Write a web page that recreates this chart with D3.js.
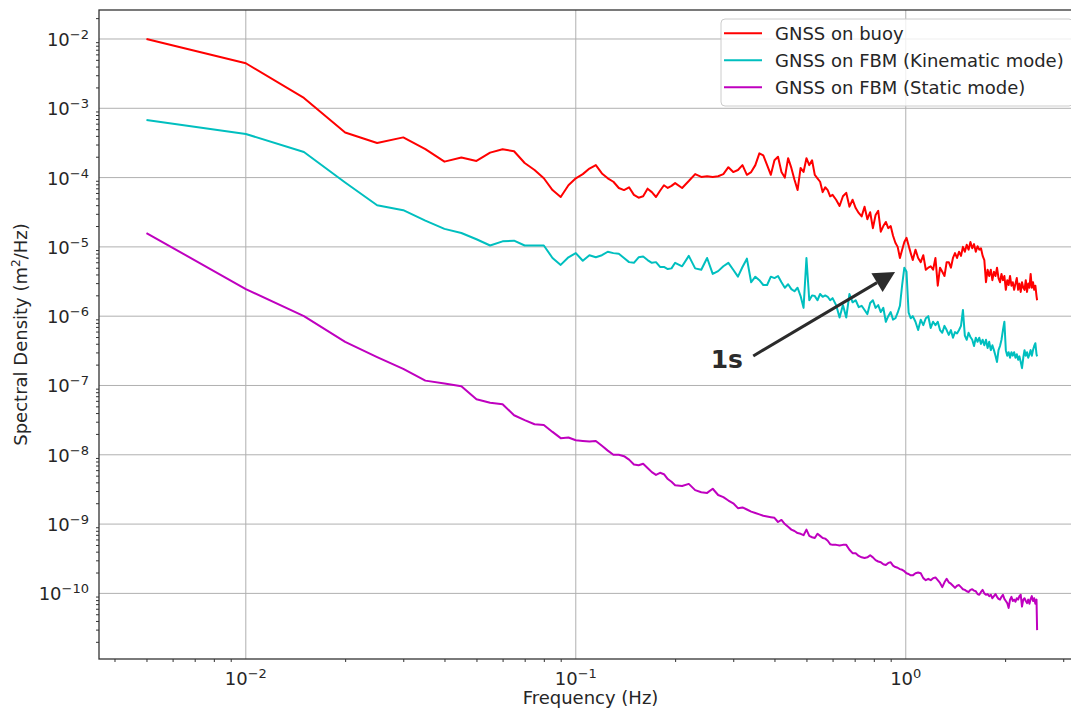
<!DOCTYPE html>
<html>
<head>
<meta charset="utf-8">
<title>Spectral density</title>
<script src="https://cdn.jsdelivr.net/npm/d3@7"></script>
<style>
	body { margin: 0; background: #fff; }
	svg text { font-family: "DejaVu Sans", sans-serif; fill: #262626; }
</style>
</head>
<body>
<div id="svg-container"></div>
<script>
// frequency bins (Hz) shared by the three spectra
const freqHz = [
	0.005,0.01,0.015,0.02,0.025,0.03,0.035,0.04,0.045,0.05,
	0.055,0.06,0.065,0.07,0.075,0.08,0.085,0.09,0.095,0.1,
	0.105,0.11,0.115,0.12,0.125,0.13,0.135,0.14,0.145,0.15,
	0.155,0.16,0.165,0.17,0.175,0.18,0.185,0.19,0.195,0.2,
	0.21,0.22,0.23,0.24,0.25,0.26,0.27,0.28,0.29,0.3,
	0.31,0.32,0.33,0.34,0.35,0.36,0.37,0.38,0.39,0.4,
	0.41,0.42,0.43,0.44,0.45,0.46,0.47,0.48,0.49,0.5,
	0.51,0.52,0.53,0.54,0.55,0.56,0.57,0.58,0.59,0.6,
	0.615,0.63,0.645,0.66,0.675,0.69,0.705,0.72,0.735,0.75,
	0.765,0.78,0.795,0.81,0.825,0.84,0.855,0.87,0.885,0.9,
	0.915,0.93,0.945,0.96,0.975,0.99,1.005,1.02,1.035,1.05,
	1.07,1.09,1.11,1.13,1.15,1.17,1.19,1.21,1.23,1.25,
	1.27,1.29,1.31,1.33,1.35,1.37,1.39,1.41,1.43,1.45,
	1.47,1.49,1.51,1.53,1.55,1.57,1.59,1.61,1.63,1.65,
	1.67,1.69,1.71,1.73,1.75,1.77,1.79,1.81,1.83,1.85,
	1.87,1.89,1.91,1.93,1.95,1.97,1.99,2.01,2.03,2.05,
	2.07,2.09,2.11,2.13,2.15,2.17,2.19,2.21,2.23,2.25,
	2.27,2.29,2.31,2.33,2.35,2.37,2.39,2.41,2.43,2.45,
	2.47,2.49,2.5
];

// spectral density, stored as log10 of m^2/Hz
const buoyLog10Psd = [
	-2.00,-2.35,-2.85,-3.35,-3.50,-3.42,-3.59,-3.77,-3.71,-3.76,
	-3.64,-3.59,-3.62,-3.79,-3.89,-4.01,-4.18,-4.28,-4.11,-4.01,
	-3.95,-3.87,-3.82,-3.94,-4.01,-4.06,-4.15,-4.18,-4.14,-4.25,
	-4.29,-4.27,-4.16,-4.21,-4.28,-4.19,-4.11,-4.15,-4.12,-4.08,
	-4.15,-4.05,-3.95,-3.99,-3.98,-3.99,-3.98,-3.95,-3.85,-3.92,
	-3.89,-3.82,-3.96,-3.92,-3.82,-3.65,-3.68,-3.82,-3.96,-3.75,
	-3.70,-3.92,-4.00,-3.72,-3.86,-4.03,-4.18,-3.86,-3.92,-3.72,
	-3.82,-3.75,-3.96,-4.01,-4.06,-4.21,-4.14,-4.18,-4.27,-4.25,
	-4.32,-4.41,-4.27,-4.22,-4.42,-4.32,-4.44,-4.51,-4.56,-4.42,
	-4.60,-4.50,-4.73,-4.54,-4.48,-4.78,-4.70,-4.64,-4.73,-4.70,
	-4.84,-4.94,-5.00,-5.16,-5.04,-4.93,-4.87,-4.98,-5.09,-5.19,
	-5.04,-5.16,-5.22,-5.12,-5.33,-5.30,-5.28,-5.33,-5.16,-5.56,
	-5.30,-5.36,-5.42,-5.22,-5.22,-5.30,-5.16,-5.09,-5.16,-5.07,
	-5.13,-5.00,-5.07,-4.97,-5.04,-4.93,-5.02,-4.96,-5.07,-4.99,
	-5.04,-5.02,-5.13,-5.19,-5.51,-5.33,-5.42,-5.33,-5.48,-5.36,
	-5.42,-5.30,-5.45,-5.51,-5.39,-5.48,-5.42,-5.62,-5.48,-5.55,
	-5.42,-5.56,-5.51,-5.62,-5.53,-5.45,-5.62,-5.53,-5.65,-5.51,
	-5.59,-5.62,-5.48,-5.65,-5.53,-5.59,-5.39,-5.59,-5.51,-5.62,
	-5.56,-5.71,-5.77
];

const kinematicLog10Psd = [
	-3.17,-3.37,-3.63,-4.07,-4.40,-4.47,-4.62,-4.74,-4.80,-4.89,
	-4.98,-4.92,-4.91,-4.98,-4.98,-4.98,-5.16,-5.26,-5.15,-5.09,
	-5.20,-5.12,-5.15,-5.12,-5.07,-5.09,-5.10,-5.16,-5.22,-5.23,
	-5.15,-5.14,-5.19,-5.23,-5.22,-5.29,-5.29,-5.32,-5.31,-5.23,
	-5.28,-5.13,-5.31,-5.33,-5.16,-5.39,-5.35,-5.28,-5.23,-5.33,
	-5.43,-5.29,-5.17,-5.51,-5.43,-5.48,-5.55,-5.55,-5.43,-5.45,
	-5.42,-5.51,-5.59,-5.54,-5.61,-5.64,-5.59,-5.71,-5.88,-5.16,
	-5.77,-5.70,-5.71,-5.77,-5.68,-5.72,-5.70,-5.72,-5.77,-5.74,
	-5.84,-6.02,-5.84,-6.02,-5.68,-5.80,-5.77,-5.87,-5.85,-5.91,
	-5.97,-5.81,-5.77,-5.88,-5.84,-5.94,-5.88,-6.08,-6.00,-5.94,
	-6.05,-6.03,-5.95,-5.85,-5.55,-5.30,-5.36,-5.95,-6.03,-6.00,
	-6.08,-6.20,-6.05,-6.13,-6.03,-6.00,-6.17,-6.08,-6.13,-6.08,
	-6.20,-6.24,-6.14,-6.20,-6.27,-6.20,-6.31,-6.23,-6.25,-6.20,
	-6.14,-5.91,-6.28,-6.34,-6.24,-6.30,-6.34,-6.43,-6.31,-6.37,
	-6.31,-6.40,-6.34,-6.42,-6.34,-6.46,-6.37,-6.49,-6.42,-6.49,
	-6.57,-6.66,-6.49,-6.43,-6.34,-6.20,-6.08,-6.49,-6.57,-6.52,
	-6.60,-6.52,-6.57,-6.52,-6.60,-6.55,-6.63,-6.58,-6.66,-6.75,
	-6.60,-6.49,-6.57,-6.52,-6.60,-6.55,-6.49,-6.57,-6.49,-6.43,
	-6.39,-6.55,-6.58
];

const staticLog10Psd = [
	-4.80,-5.61,-6.00,-6.37,-6.59,-6.76,-6.93,-6.97,-7.01,-7.20,
	-7.25,-7.27,-7.43,-7.50,-7.56,-7.57,-7.67,-7.76,-7.75,-7.79,
	-7.80,-7.81,-7.80,-7.87,-7.94,-8.00,-8.00,-8.02,-8.07,-8.14,
	-8.15,-8.13,-8.19,-8.25,-8.29,-8.26,-8.28,-8.35,-8.39,-8.44,
	-8.45,-8.42,-8.51,-8.54,-8.55,-8.49,-8.58,-8.61,-8.66,-8.70,
	-8.77,-8.76,-8.79,-8.82,-8.84,-8.86,-8.88,-8.89,-8.90,-8.91,
	-8.97,-8.94,-9.00,-9.04,-9.08,-9.10,-9.13,-9.14,-9.16,-9.08,
	-9.17,-9.19,-9.20,-9.14,-9.17,-9.20,-9.21,-9.24,-9.29,-9.30,
	-9.30,-9.31,-9.30,-9.30,-9.37,-9.42,-9.42,-9.46,-9.48,-9.49,
	-9.48,-9.45,-9.48,-9.52,-9.54,-9.55,-9.58,-9.59,-9.56,-9.55,
	-9.60,-9.62,-9.63,-9.65,-9.66,-9.68,-9.71,-9.72,-9.74,-9.74,
	-9.71,-9.70,-9.71,-9.78,-9.81,-9.79,-9.81,-9.78,-9.77,-9.81,
	-9.85,-9.91,-9.84,-9.79,-9.84,-9.86,-9.89,-9.92,-9.89,-9.88,
	-9.91,-9.94,-9.95,-9.97,-9.98,-9.95,-9.94,-9.96,-9.97,-10.01,
	-10.02,-9.98,-9.95,-10.00,-10.02,-10.01,-10.04,-10.02,-10.07,-10.04,
	-10.01,-10.05,-10.08,-10.09,-10.05,-10.02,-10.08,-10.11,-10.14,-10.21,
	-10.09,-10.05,-10.11,-10.09,-10.12,-10.07,-10.09,-10.04,-10.02,-10.19,
	-10.09,-10.07,-10.11,-10.14,-10.09,-10.15,-10.08,-10.04,-10.11,-10.07,
	-10.15,-10.09,-10.53
];

const seriesNames = ["GNSS on buoy", "GNSS on FBM (Kinematic mode)", "GNSS on FBM (Static mode)"];
const xMajorTicks = [0.01, 0.1, 1];
const yMajorTicks = [1e-2, 1e-3, 1e-4, 1e-5, 1e-6, 1e-7, 1e-8, 1e-9, 1e-10];
const xLimits = [0.00359, 3.42];
const yLimits = [1.13e-11, 2.62e-2];
const xTitle = "Frequency (Hz)";
const yTitle = ["Spectral Density (m", "2", "/Hz)"];

// "1s" arrow: text anchor, arrow tail and arrow tip in data units
const noteText = "1s";
const noteTextAt = [0.321, 1.79e-7];
const noteTail = [0.345, 2.67e-7];
const noteTip = [0.928, 4.35e-6];

var Chart = function () {
	var _outerSize = { width: 1071, height: 710 };
	var _plot = { left: 99, top: 10, right: 1082, bottom: 659 };
	var _colors = ["#ff0000", "#00bfbf", "#bf00bf"];
	var _x = d3.scaleLog().domain(xLimits).range([_plot.left, _plot.right]);
	var _y = d3.scaleLog().domain(yLimits).range([_plot.bottom, _plot.top]);
	var _svg;

	return { draw: myDraw };

	function isDecade(v) {
		var l = Math.log10(v);
		return Math.abs(l - Math.round(l)) < 1e-6;
	}

	// 10^n label written with a raised exponent
	function powerLabel(sel, v) {
		var e = Math.round(Math.log10(v));
		sel.append("tspan").text("10");
		sel.append("tspan")
			.attr("dy", -7)
			.attr("font-size", 13)
			.text(e < 0 ? "\u2212" + (-e) : String(e));
	}

	function myDraw(series) {
		_svg = d3.select("#svg-container").append("svg")
			.attr("width", _outerSize.width)
			.attr("height", _outerSize.height);

		drawGrid();
		drawLines(series);
		drawAxes();
		drawLegend(series);
		drawNote();
	}

	function drawGrid() {
		var g = _svg.append("g").attr("class", "grid")
			.attr("stroke", "#b0b0b0").attr("stroke-width", 1);
		g.selectAll("line.gx").data(xMajorTicks).enter().append("line")
			.attr("x1", d => _x(d)).attr("x2", d => _x(d))
			.attr("y1", _plot.top).attr("y2", _plot.bottom);
		g.selectAll("line.gy").data(yMajorTicks).enter().append("line")
			.attr("y1", d => _y(d)).attr("y2", d => _y(d))
			.attr("x1", _plot.left).attr("x2", _plot.right);
	}

	function drawLines(series) {
		var lineFunction = d3.line()
			.x(d => _x(d.f))
			.y(d => _y(Math.pow(10, d.v)))
			.curve(d3.curveLinear);

		_svg.append("g").attr("class", "lines")
			.selectAll("path").data(series).enter().append("path")
			.attr("fill", "none")
			.attr("stroke", (d, i) => _colors[i])
			.attr("stroke-width", 2)
			.attr("stroke-linejoin", "round")
			.attr("d", d => lineFunction(d.points));
	}

	function drawAxes() {
		var xMinor = _x.ticks().filter(t => !isDecade(t));
		var yMinor = _y.ticks(40).filter(t => !isDecade(t));

		var gx = _svg.append("g").attr("class", "x axis")
			.attr("transform", "translate(0," + _plot.bottom + ")");
		gx.call(d3.axisBottom(_x).tickValues(xMajorTicks).tickSize(5).tickFormat(""));
		gx.call(d3.axisBottom(_x).tickValues(xMinor).tickSize(3).tickFormat(""));
		gx.selectAll(".domain").remove();

		var gy = _svg.append("g").attr("class", "y axis")
			.attr("transform", "translate(" + _plot.left + ",0)");
		gy.call(d3.axisLeft(_y).tickValues(yMajorTicks).tickSize(5).tickFormat(""));
		gy.call(d3.axisLeft(_y).tickValues(yMinor).tickSize(3).tickFormat(""));
		gy.selectAll(".domain").remove();
		_svg.selectAll(".axis line").attr("stroke", "#333").attr("stroke-width", 1);

		// tick labels with superscripts
		_svg.append("g").selectAll("text").data(xMajorTicks).enter().append("text")
			.attr("x", d => _x(d)).attr("y", _plot.bottom + 26)
			.attr("text-anchor", "middle").attr("font-size", 18)
			.each(function (d) { powerLabel(d3.select(this), d); });

		_svg.append("g").selectAll("text").data(yMajorTicks).enter().append("text")
			.attr("x", _plot.left - 10).attr("y", d => _y(d) + 7)
			.attr("text-anchor", "end").attr("font-size", 18)
			.each(function (d) { powerLabel(d3.select(this), d); });

		// spines
		_svg.append("rect")
			.attr("x", _plot.left).attr("y", _plot.top)
			.attr("width", _plot.right - _plot.left).attr("height", _plot.bottom - _plot.top)
			.attr("fill", "none").attr("stroke", "#333").attr("stroke-width", 1.3);

		_svg.append("text")
			.attr("x", (_plot.left + _plot.right) / 2).attr("y", 704)
			.attr("text-anchor", "middle").attr("font-size", 18)
			.text(xTitle);

		var yt = _svg.append("text")
			.attr("transform", "translate(27," + (_plot.top + _plot.bottom) / 2 + ") rotate(-90)")
			.attr("text-anchor", "middle").attr("font-size", 18);
		yt.append("tspan").text(yTitle[0]);
		yt.append("tspan").attr("dy", -7).attr("font-size", 12).text(yTitle[1]);
		yt.append("tspan").attr("dy", 7).text(yTitle[2]);
	}

	function drawLegend(series) {
		var box = { x: 721, y: 19, w: 352, h: 87 };
		var lg = _svg.append("g").attr("class", "legend");
		lg.append("rect")
			.attr("x", box.x).attr("y", box.y).attr("width", box.w).attr("height", box.h)
			.attr("rx", 4)
			.attr("fill", "#fff").attr("fill-opacity", 0.8)
			.attr("stroke", "#cccccc").attr("stroke-width", 1);

		var rows = lg.selectAll("g.row").data(series).enter().append("g")
			.attr("transform", (d, i) => "translate(0," + (33.3 + i * 27) + ")");
		rows.append("line")
			.attr("x1", 724).attr("x2", 762)
			.attr("stroke", (d, i) => _colors[i]).attr("stroke-width", 2);
		rows.append("text")
			.attr("x", 775).attr("y", 6.5).attr("font-size", 18)
			.text(d => d.name);
	}

	function drawNote() {
		var tip = [_x(noteTip[0]), _y(noteTip[1])];
		var tail = [_x(noteTail[0]), _y(noteTail[1])];
		var dx = tip[0] - tail[0], dy = tip[1] - tail[1];
		var len = Math.sqrt(dx * dx + dy * dy);
		var ux = dx / len, uy = dy / len;
		var headLen = 21, headHalf = 11;
		var base = [tip[0] - ux * headLen, tip[1] - uy * headLen];

		var g = _svg.append("g").attr("class", "note");
		g.append("line")
			.attr("x1", tail[0]).attr("y1", tail[1])
			.attr("x2", base[0]).attr("y2", base[1])
			.attr("stroke", "#2b2b2b").attr("stroke-width", 3);
		g.append("polygon")
			.attr("points", [
				tip,
				[base[0] - uy * headHalf, base[1] + ux * headHalf],
				[base[0] + uy * headHalf, base[1] - ux * headHalf]
			].map(p => p.join(",")).join(" "))
			.attr("fill", "#2b2b2b");
		g.append("text")
			.attr("x", _x(noteTextAt[0])).attr("y", _y(noteTextAt[1]))
			.attr("text-anchor", "end")
			.attr("font-size", 25).attr("font-weight", "bold")
			.style("fill", "#2b2b2b")
			.text(noteText);
	}
};

var series = [buoyLog10Psd, kinematicLog10Psd, staticLog10Psd].map(function (vals, i) {
	if (vals.length !== freqHz.length) console.log("warning: " + seriesNames[i] + " has " + vals.length + " values");
	return {
		name: seriesNames[i],
		points: vals.map((v, j) => ({ f: freqHz[j], v: v }))
	};
});

Chart().draw(series);
</script>
</body>
</html>
